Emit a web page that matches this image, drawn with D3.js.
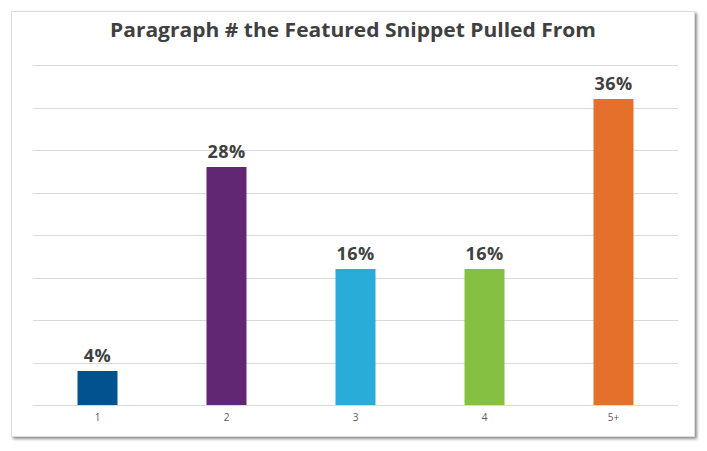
<!DOCTYPE html>
<html><head><meta charset="utf-8">
<script src="https://cdn.jsdelivr.net/npm/d3@7"></script>
<style>body{margin:0;background:#fff;}svg{display:block;}</style>
</head><body>
<script>
const categories = ["1","2","3","4","5+"];
const values = [4,28,16,16,36];
const colors = ["#02528f","#612773","#29acd8","#86c042","#e5702b"];
const gridTicks = [0,5,10,15,20,25,30,35,40];
const title = "Paragraph # the Featured Snippet Pulled From";

const W=707,H=451;
const svg=d3.select("body").append("svg").attr("width",W).attr("height",H);
const defs=svg.append("defs");
const f=defs.append("filter").attr("id","sh").attr("x","-5%").attr("y","-5%").attr("width","110%").attr("height","110%");
f.append("feGaussianBlur").attr("in","SourceAlpha").attr("stdDeviation",1.5);
f.append("feOffset").attr("dx",2).attr("dy",2).attr("result","b");
f.append("feComponentTransfer").append("feFuncA").attr("type","linear").attr("slope",0.45);
const m=f.append("feMerge");m.append("feMergeNode");m.append("feMergeNode").attr("in","SourceGraphic");
svg.append("rect").attr("x",11.5).attr("y",11.5).attr("width",683).attr("height",425)
  .attr("fill","#fff").attr("stroke","#dcdcdc").attr("filter","url(#sh)");

const L=33,R=678,T=65,B=405;
const x=d3.scaleBand().domain(categories).range([L,R]).paddingInner(0.69).paddingOuter(0.345);
const y=d3.scaleLinear().domain([0,40]).range([B,T]);

svg.append("g").selectAll("line").data(gridTicks).join("line")
  .attr("x1",L).attr("x2",R).attr("y1",d=>Math.round(y(d))+0.5).attr("y2",d=>Math.round(y(d))+0.5)
  .attr("stroke","#d9d9d9").attr("stroke-width",1);

svg.append("g").selectAll("rect").data(values).join("rect")
  .attr("x",(d,i)=>x(categories[i])).attr("width",x.bandwidth())
  .attr("y",d=>y(d)).attr("height",d=>B-y(d)).attr("fill",(d,i)=>colors[i]);

svg.append("g").selectAll("text").data(values).join("text")
  .attr("x",(d,i)=>x(categories[i])+x.bandwidth()/2).attr("y",d=>y(d)-9)
  .attr("text-anchor","middle").attr("font-family","'Open Sans',sans-serif").attr("font-weight",700)
  .attr("font-size",18).attr("letter-spacing",0.4).attr("fill","#404040").text(d=>d+"%");

const ax=svg.append("g").attr("transform",`translate(0,${B})`).call(d3.axisBottom(x).tickSize(0).tickPadding(9));
ax.select(".domain").remove();
ax.selectAll("text").attr("font-family","'Open Sans',sans-serif").attr("font-size",10).attr("fill","#5a5a5a");

svg.append("text").attr("x",353).attr("y",37).attr("text-anchor","middle")
  .attr("font-family","'Open Sans',sans-serif").attr("font-weight",700).attr("font-size",19)
  .attr("fill","#404040").attr("textLength",486).attr("lengthAdjust","spacingAndGlyphs").text(title);
</script>
</body></html>
